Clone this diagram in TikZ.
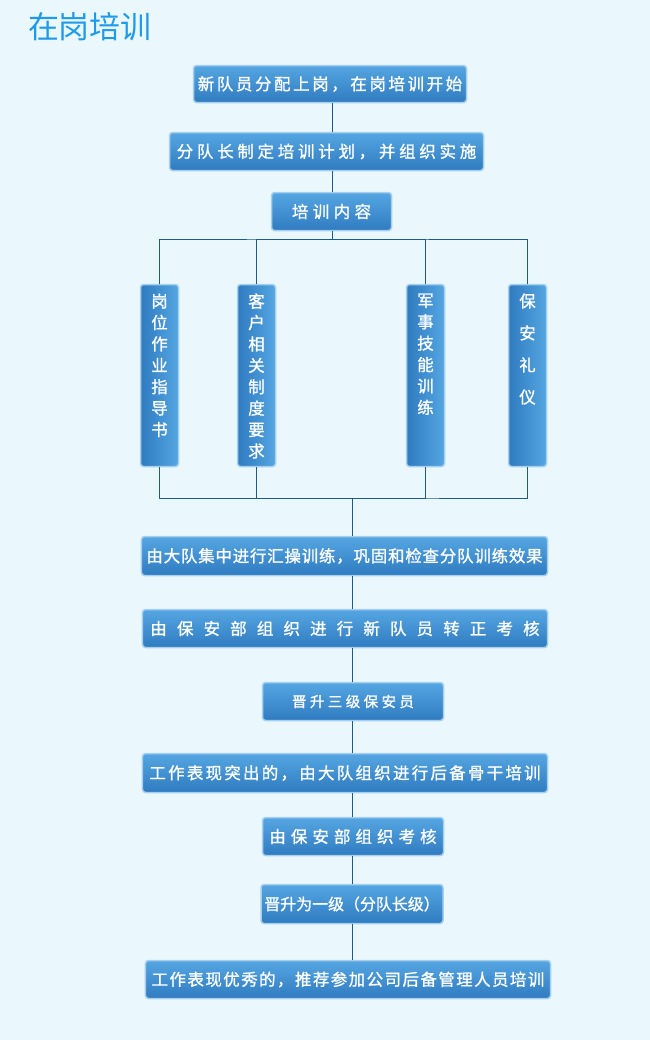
\documentclass[tikz,border=0pt]{standalone}
\usepackage{fontspec}
\usepackage{tikz}
\setmainfont{Noto Sans CJK SC}
\newfontfamily\cjk{Noto Sans CJK SC}
\newfontfamily\cjkbox[FakeBold=1.2]{Noto Sans CJK SC}

\definecolor{bgblue}{HTML}{EAF8FE}
\definecolor{titleblue}{HTML}{1E9BE8}
\definecolor{boxtop}{HTML}{55A6E2}
\definecolor{boxbot}{HTML}{2F7BC0}
\definecolor{boxrim}{HTML}{A6CFEE}
\definecolor{wire}{HTML}{1C5A8A}

\newcommand\vtext[2]{\parbox[c][164bp][t]{26bp}{\centering\fontsize{16.5}{#1}\selectfont #2}}

\tikzset{
  box/.style={rectangle, rounded corners=3bp, draw=boxrim, line width=1.5bp,
    top color=boxtop, bottom color=boxbot, text=white, inner sep=0pt},
  spaced/.style={font=\cjkbox\fontsize{16.5}{18}\selectfont\addfontfeature{LetterSpace=#1}},
  vbox/.style={box, left color=boxbot, right color=boxtop,
    minimum width=38bp, minimum height=182bp, font=\cjkbox},
  wireline/.style={draw=wire, line width=1bp}
}

\begin{document}
\begin{tikzpicture}[x=1bp, y=-1bp]
  \fill[bgblue] (0,0) rectangle (650,1040);
  \useasboundingbox (0,0) rectangle (650,1040);

  \node[anchor=west, text=titleblue, font=\cjk\fontsize{31}{33}\selectfont] (title) at (24.5,27) {在岗培训};

  % top part
  \node[box, spaced=16, minimum width=273bp, minimum height=37bp] (b1) at (330,84) {新队员分配上岗，在岗培训开始};
  \node[box, spaced=23, minimum width=314bp, minimum height=38bp] (b2) at (326.5,151.5) {分队长制定培训计划，并组织实施};
  \node[box, spaced=27, minimum width=120bp, minimum height=38bp] (b3) at (331.5,211.5) {培训内容};

  % training content
  \node[vbox] (v1) at (159.5,375.5) {\vtext{21.4bp}{岗\\位\\作\\业\\指\\导\\书}};
  \node[vbox] (v2) at (256.5,375.5) {\vtext{21.4bp}{客\\户\\相\\关\\制\\度\\要\\求}};
  \node[vbox] (v3) at (425.5,375.5) {\vtext{21.4bp}{军\\事\\技\\能\\训\\练}};
  \node[vbox] (v4) at (527.5,375.5) {\vtext{32bp}{保\\安\\礼\\仪}};

  % bottom part
  \node[box, spaced=5, minimum width=406bp, minimum height=39bp] (b4) at (344.5,556) {由大队集中进行汇操训练，巩固和检查分队训练效果};
  \node[box, spaced=62, minimum width=405bp, minimum height=38bp] (b5) at (345,628.5) {由保安部组织进行新队员转正考核};
  \node[box, font=\cjkbox\fontsize{14.5}{16}\selectfont\addfontfeature{LetterSpace=24}, minimum width=181bp, minimum height=38bp] (b6) at (353,701.5) {晋升三级保安员};
  \node[box, spaced=14, minimum width=405bp, minimum height=39bp] (b7) at (345,773) {工作表现突出的，由大队组织进行后备骨干培训};
  \node[box, spaced=31, minimum width=181bp, minimum height=38bp] (b8) at (353,836.5) {由保安部组织考核};
  \node[box, font=\cjkbox\fontsize{16}{18}\selectfont, minimum width=182bp, minimum height=39bp] (b9) at (352,904) {晋升为一级（分队长级）};
  \node[box, spaced=9, minimum width=405bp, minimum height=38bp] (b10) at (348,979.5) {工作表现优秀的，推荐参加公司后备管理人员培训};

  \coordinate (topspine) at (332,0);
  \coordinate (split) at (332,239);
  \coordinate (merge) at (352.5,498);

  \draw[wireline] (b1.south -| topspine) -- (b2.north -| topspine);
  \draw[wireline] (b2.south -| topspine) -- (b3.north -| topspine);
  \draw[wireline] (b3.south -| topspine) -- (split);
  \draw[wireline] (v1.north) |- (split) -| (v4.north);
  \draw[wireline] (v2.north) |- (split);
  \draw[wireline] (v3.north) |- (split);

  \draw[wireline] (v1.south) |- (merge) -| (v4.south);
  \draw[wireline] (v2.south) |- (merge);
  \draw[wireline] (v3.south) |- (merge);
  \draw[wireline] (merge) -- (b4.north -| merge);

  \foreach \a/\b in {b4/b5, b5/b6, b6/b7, b7/b8, b8/b9, b9/b10}
    \draw[wireline] (\a.south -| merge) -- (\b.north -| merge);
\end{tikzpicture}
\end{document}
